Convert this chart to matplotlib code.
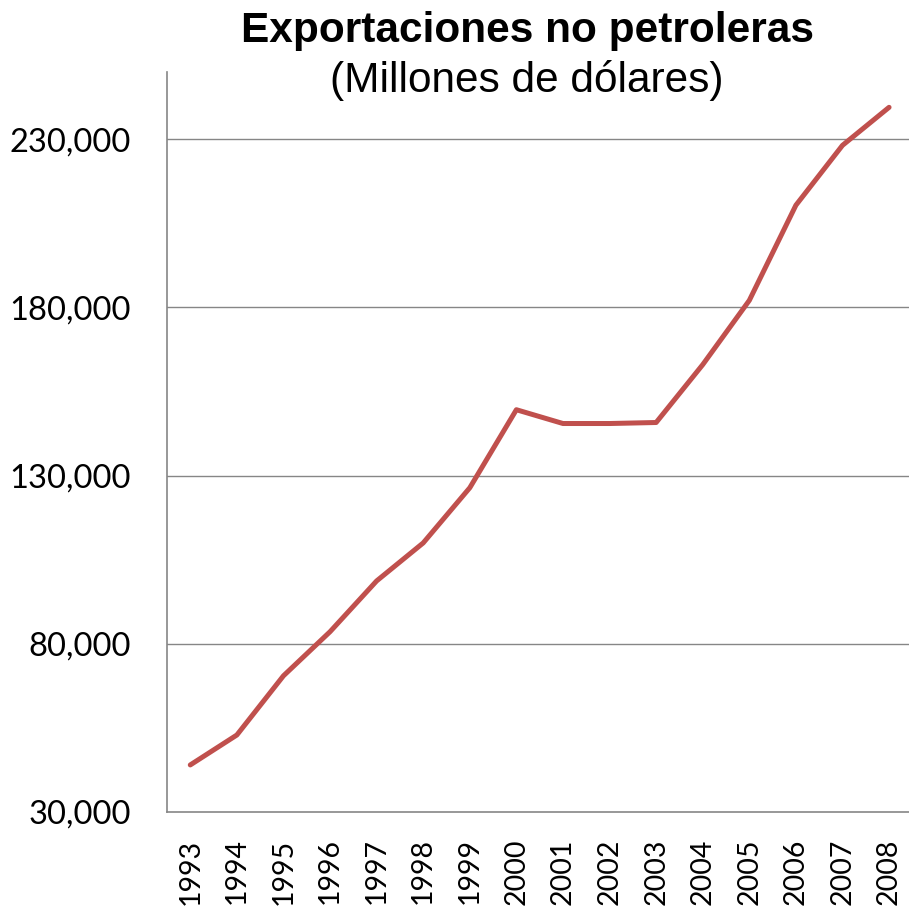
import numpy as np
import matplotlib.pyplot as plt

anios = [str(a) for a in range(1993, 2009)]
exportaciones = [44000, 52900, 70500, 83600, 98700, 110000, 126400, 149600,
                 145500, 145500, 145800, 163000, 182100, 210400, 228200, 239500]
y_ticks = [30000, 80000, 130000, 180000, 230000]

fig = plt.figure(figsize=(9.09, 9.08), dpi=100)
ax = fig.add_axes([0.1837, 0.1057, 0.82, 0.815])

x = np.arange(len(anios))
ax.plot(x, exportaciones, color='#C0504D', linewidth=3.6, solid_capstyle='round')

ax.set_xlim(-0.5, len(anios) - 0.5)
ax.set_ylim(30000, 250000)
ax.set_yticks(y_ticks)
ax.set_yticklabels(["{:,}".format(v) for v in y_ticks], fontfamily='Lato', fontsize=23.5)
ax.set_xticks(x)
ax.set_xticklabels(anios, rotation=90, fontfamily='Lato', fontsize=20.5)
ax.tick_params(axis='y', length=0, pad=26)
ax.tick_params(axis='x', length=0, pad=19)

for v in y_ticks[1:]:
    ax.axhline(v, color='#868686', linewidth=1.0, zorder=0)

for s in ['top', 'right']:
    ax.spines[s].set_visible(False)
for s in ['left', 'bottom']:
    ax.spines[s].set_color('#868686')
    ax.spines[s].set_linewidth(1.2)

fig.text(0.580, 0.966, "Exportaciones no petroleras", ha='center', va='center',
         fontfamily='Liberation Sans', fontweight='bold', fontsize=30.5)
fig.text(0.579, 0.911, "(Millones de dólares)", ha='center', va='center',
         fontfamily='Liberation Sans', fontsize=30.5)

fig.savefig('out.png', dpi=100)
